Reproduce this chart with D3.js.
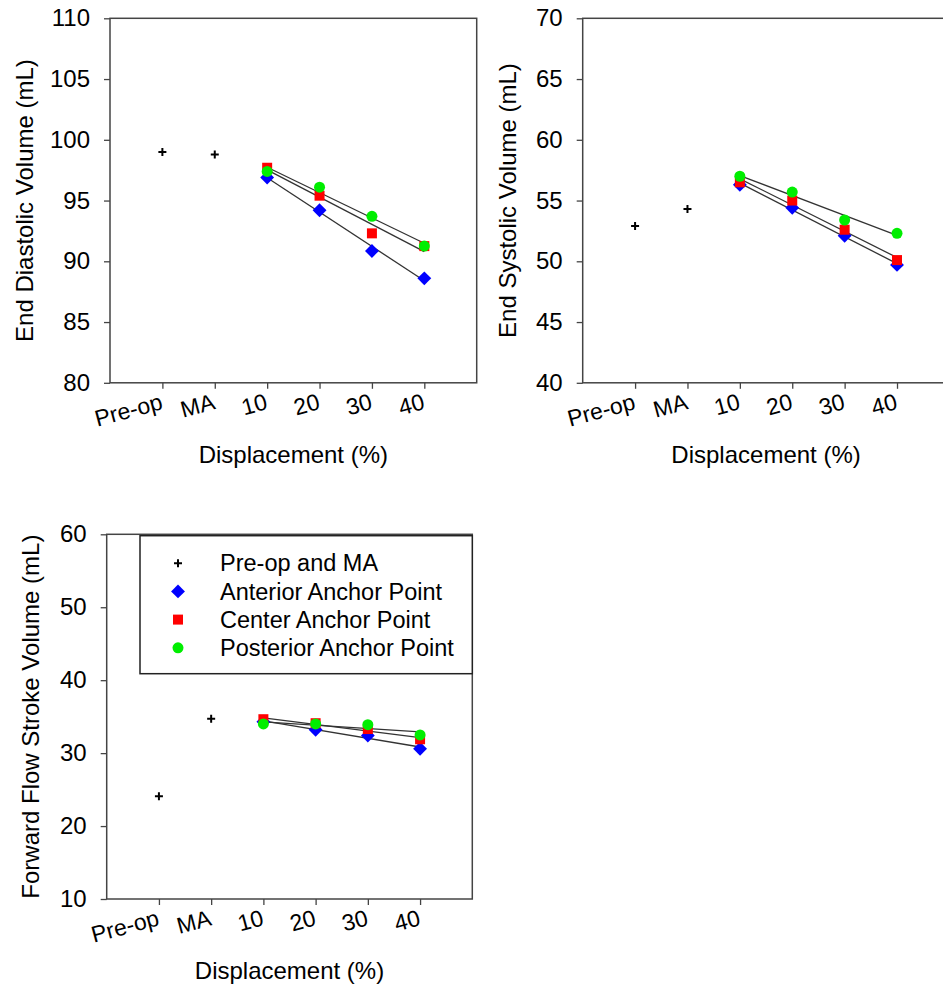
<!DOCTYPE html>
<html>
<head>
<meta charset="utf-8">
<script src="https://cdn.jsdelivr.net/npm/d3@7"></script>
<style>
  html, body { margin: 0; padding: 0; background: #fff; }
  svg { display: block; font-family: "Liberation Sans", Arial, sans-serif; }
</style>
</head>
<body>
<svg id="chart" width="943" height="990"></svg>
<script>
// categories on the x axis
const categories = ["Pre-op", "MA", "10", "20", "30", "40"];
const displacement = [10, 20, 30, 40];
const seriesNames = ["Pre-op and MA", "Anterior Anchor Point", "Center Anchor Point", "Posterior Anchor Point"];

// End diastolic volume (mL)
const edvBaseline = [99.0, 98.8];
const edvAnterior = [96.9, 94.2, 90.85, 88.6];
const edvCenter = [97.7, 95.4, 92.3, 91.25];
const edvPosterior = [97.4, 96.1, 93.7, 91.25];

// End systolic volume (mL)
const esvBaseline = [52.9, 54.3];
const esvAnterior = [56.3, 54.4, 52.1, 49.7];
const esvCenter = [56.5, 55.0, 52.6, 50.1];
const esvPosterior = [57.0, 55.7, 53.4, 52.3];

// Forward flow stroke volume (mL)
const ffsvBaseline = [24.1, 34.7];
const ffsvAnterior = [34.3, 33.2, 32.4, 30.6];
const ffsvCenter = [34.65, 34.1, 33.3, 31.9];
const ffsvPosterior = [34.0, 34.0, 33.9, 32.5];

const edvTicks = [80, 85, 90, 95, 100, 105, 110];
const esvTicks = [40, 45, 50, 55, 60, 65, 70];
const ffsvTicks = [10, 20, 30, 40, 50, 60];

const colors = { anterior: "#0000ff", center: "#ff0000", posterior: "#00ee00" };
const axisColor = "#444";

const svg = d3.select("#chart");

const panels = [
  { left: 110, top: 18.3, width: 366.7, height: 364.5, ticks: edvTicks,
    title: "End Diastolic Volume (mL)", titleOffset: 77,
    base: edvBaseline, ant: edvAnterior, cen: edvCenter, pos: edvPosterior },
  { left: 582.7, top: 18.3, width: 366.7, height: 364.5, ticks: esvTicks,
    title: "End Systolic Volume (mL)", titleOffset: 67,
    base: esvBaseline, ant: esvAnterior, cen: esvCenter, pos: esvPosterior },
  { left: 106.7, top: 534.3, width: 365.6, height: 364.7, ticks: ffsvTicks,
    title: "Forward Flow Stroke Volume (mL)", titleOffset: 68,
    base: ffsvBaseline, ant: ffsvAnterior, cen: ffsvCenter, pos: ffsvPosterior, legend: true }
];

// simple least squares fit
function fit(xs, ys) {
  const mx = d3.mean(xs), my = d3.mean(ys);
  const slope = d3.sum(xs, (x, i) => (x - mx) * (ys[i] - my)) / d3.sum(xs, x => (x - mx) ** 2);
  return x => my + slope * (x - mx);
}

const plusPath = "M-4,0H4M0,-4V4";

function drawMarker(g, kind, cx, cy) {
  if (kind === "base") {
    g.append("path").attr("d", plusPath).attr("transform", `translate(${cx},${cy})`)
      .attr("stroke", "#000").attr("stroke-width", 2);
  } else if (kind === "ant") {
    g.append("path").attr("d", d3.symbol(d3.symbolSquare, 96)())
      .attr("transform", `translate(${cx},${cy}) rotate(45)`).attr("fill", colors.anterior);
  } else if (kind === "cen") {
    g.append("path").attr("d", d3.symbol(d3.symbolSquare, 100)())
      .attr("transform", `translate(${cx},${cy})`).attr("fill", colors.center);
  } else {
    g.append("path").attr("d", d3.symbol(d3.symbolCircle, 95)())
      .attr("transform", `translate(${cx},${cy})`).attr("fill", colors.posterior);
  }
}

panels.forEach(p => {
  const bottom = p.top + p.height;
  const x = d3.scaleLinear().domain([0, 7]).range([p.left, p.left + p.width]);
  const y = d3.scaleLinear().domain(d3.extent(p.ticks)).range([bottom, p.top]);
  const g = svg.append("g");

  // frame
  g.append("rect")
    .attr("x", p.left).attr("y", p.top)
    .attr("width", p.width).attr("height", p.height)
    .attr("fill", "none").attr("stroke", axisColor).attr("stroke-width", 1.5);

  // y axis
  const yAxis = g.append("g")
    .attr("transform", `translate(${p.left},0)`)
    .call(d3.axisLeft(y).tickValues(p.ticks).tickSize(6).tickPadding(14));
  yAxis.select(".domain").remove();
  yAxis.selectAll("line").attr("stroke", axisColor).attr("stroke-width", 1.3);
  yAxis.selectAll("text").attr("font-size", 24).attr("fill", "#000")
    .attr("font-family", "Liberation Sans, Arial, sans-serif");

  // x axis with rotated labels
  const xAxis = g.append("g")
    .attr("transform", `translate(0,${bottom})`)
    .call(d3.axisBottom(x).tickValues(d3.range(1, categories.length + 1))
      .tickFormat(i => categories[i - 1]).tickSize(6));
  xAxis.select(".domain").remove();
  xAxis.selectAll("line").attr("stroke", axisColor).attr("stroke-width", 1.3);
  xAxis.selectAll("text")
    .attr("font-size", 23).attr("fill", "#000")
    .attr("font-family", "Liberation Sans, Arial, sans-serif")
    .attr("y", 0).attr("dy", 0)
    .attr("text-anchor", "end")
    .attr("transform", "translate(1,26) rotate(-15)");

  // titles
  g.append("text")
    .attr("transform", `translate(${p.left - p.titleOffset},${p.top + p.height / 2}) rotate(-90)`)
    .attr("text-anchor", "middle").attr("font-size", 24)
    .text(p.title);
  g.append("text")
    .attr("x", p.left + p.width / 2).attr("y", bottom + 80)
    .attr("text-anchor", "middle").attr("font-size", 24)
    .text("Displacement (%)");

  // regression lines for the anchor point series
  const xi = d => x(displacement.indexOf(d) + 3);
  ["ant", "cen", "pos"].forEach(k => {
    const f = fit(displacement, p[k]);
    const d0 = displacement[0], d1 = displacement[displacement.length - 1];
    g.append("line")
      .attr("x1", xi(d0)).attr("y1", y(f(d0)))
      .attr("x2", xi(d1)).attr("y2", y(f(d1)))
      .attr("stroke", "#333").attr("stroke-width", 1.3);
  });

  // markers
  p.base.forEach((v, i) => drawMarker(g, "base", x(i + 1), y(v)));
  ["ant", "cen", "pos"].forEach(k => {
    p[k].forEach((v, i) => drawMarker(g, k, x(i + 3), y(v)));
  });

  if (p.legend) {
    const lg = svg.append("g");
    const lx = 140, ly = p.top + 1.4, lw = p.left + p.width - lx, lh = 138;
    lg.append("rect").attr("x", lx).attr("y", ly).attr("width", lw).attr("height", lh)
      .attr("fill", "#fff").attr("stroke", "#222").attr("stroke-width", 1.5);
    const kinds = ["base", "ant", "cen", "pos"];
    seriesNames.forEach((name, i) => {
      const cy = ly + 27.5 + i * 28.2;
      drawMarker(lg, kinds[i], 178, cy);
      lg.append("text").attr("x", 220).attr("y", cy).attr("dy", "0.35em")
        .attr("font-size", 23.5).text(name);
    });
  }
});
</script>
</body>
</html>
